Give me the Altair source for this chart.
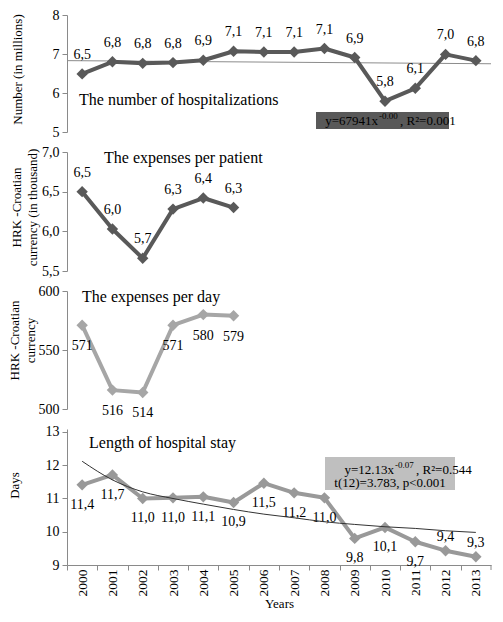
import altair as alt
import pandas as pd

# ---------------- data ----------------
years = list(range(2000, 2014))

hosp_values = [6.49, 6.80, 6.76, 6.78, 6.84, 7.07, 7.05, 7.05, 7.14, 6.91, 5.79, 6.12, 6.99, 6.83]
hosp_labels = ["6,5", "6,8", "6,8", "6,8", "6,9", "7,1", "7,1", "7,1", "7,1", "6,9", "5,8", "6,1", "7,0", "6,8"]
hosp_trend_years = [1999.5, 2013.5]
hosp_trend_values = [6.83, 6.75]

patient_years = [2000, 2001, 2002, 2003, 2004, 2005]
patient_values = [6.50, 6.03, 5.66, 6.28, 6.42, 6.30]
patient_labels = ["6,5", "6,0", "5,7", "6,3", "6,4", "6,3"]

day_years = [2000, 2001, 2002, 2003, 2004, 2005]
day_values = [571, 516, 514, 571, 580, 579]
day_labels = ["571", "516", "514", "571", "580", "579"]

stay_values = [11.41, 11.71, 11.00, 11.02, 11.05, 10.88, 11.46, 11.17, 11.02, 9.80, 10.13, 9.70, 9.43, 9.25]
stay_labels = ["11,4", "11,7", "11,0", "11,0", "11,1", "10,9", "11,5", "11,2", "11,0", "9,8", "10,1", "9,7", "9,4", "9,3"]
stay_trend_values = [12.12, 11.56, 11.20, 11.00, 10.83, 10.67, 10.53, 10.42, 10.30, 10.22, 10.15, 10.10, 10.03, 9.98]

# ---------------- helpers ----------------
FONT = "Liberation Serif"
W = 424
H4 = 136
X_DOMAIN = [years[0] - 0.5, years[-1] + 0.5]
AXIS_GRAY = "#8a8a8a"
one = pd.DataFrame({"k": [0]})


def df(xs, ys, labels=None):
    d = {"year": xs, "value": ys}
    if labels is not None:
        d["label"] = labels
    return pd.DataFrame(d)


def x_hidden():
    return alt.X("year:Q", scale=alt.Scale(domain=X_DOMAIN, nice=False, zero=False), axis=None)


def x_shown():
    tick_vals = [y - 0.5 for y in years]
    return alt.X(
        "year:Q",
        scale=alt.Scale(domain=X_DOMAIN, nice=False, zero=False),
        axis=alt.Axis(
            values=tick_vals,
            labelExpr="format(datum.value + 0.5, 'd')",
            labelOffset=W / len(years) / 2,
            labelAngle=-90,
            labelFontSize=13.5,
            title="Years",
            grid=False,
            tickSize=5,
            labelPadding=-1,
            titlePadding=1,
        ),
    )


def y_enc(domain, values, title, titleX, titleY, label_expr=None):
    kw = dict(
        values=values,
        title=title,
        titleX=titleX,
        titleY=titleY,
        titleAngle=270,
        titleAlign="center",
        titleBaseline="middle",
        titleLineHeight=16,
        grid=False,
        tickSize=5,
        labelPadding=3,
    )
    if label_expr:
        kw["labelExpr"] = label_expr
    return alt.Y("value:Q", scale=alt.Scale(domain=domain, nice=False, zero=False), axis=alt.Axis(**kw))


def note(text, x, y, size=14, align="left", color="black", baseline="middle"):
    return alt.Chart(one).mark_text(
        font=FONT, fontSize=size, align=align, baseline=baseline, color=color
    ).encode(x=alt.value(x), y=alt.value(y), text=alt.value(text))


def series_layers(data, y, xenc, color, label_dy, width=4, flip_below=None, flip_dy=-14):
    base = alt.Chart(data)
    line = base.mark_line(color=color, strokeWidth=width, strokeJoin="round").encode(x=xenc, y=y)
    pts = base.mark_point(shape="diamond", filled=True, size=130, color=color, opacity=1).encode(x=xenc, y=y)
    layers = [line, pts]
    if flip_below is None:
        layers.append(
            base.mark_text(font=FONT, fontSize=14, color="black", dy=label_dy).encode(x=xenc, y=y, text="label:N")
        )
    else:
        layers.append(
            base.transform_filter(alt.datum.value >= flip_below)
            .mark_text(font=FONT, fontSize=14, color="black", dy=label_dy)
            .encode(x=xenc, y=y, text="label:N")
        )
        layers.append(
            base.transform_filter(alt.datum.value < flip_below)
            .mark_text(font=FONT, fontSize=14, color="black", dy=flip_dy)
            .encode(x=xenc, y=y, text="label:N")
        )
    return layers


# ---------------- panel 1 ----------------
y1 = y_enc([5, 8], [5, 6, 7, 8], "Number (in millions)", -50, 54)
trend1 = alt.Chart(df(hosp_trend_years, hosp_trend_values)).mark_line(color="#8c8c8c", strokeWidth=1).encode(x=x_hidden(), y=y1)
box1 = alt.Chart(one).mark_rect(color="#595959").encode(
    x=alt.value(249), x2=alt.value(382), y=alt.value(97), y2=alt.value(114)
)
p1 = alt.layer(
    trend1,
    *series_layers(df(years, hosp_values, hosp_labels), y1, x_hidden(), "#595959", -19),
    note("The number of hospitalizations", 12, 85, size=16),
    box1,
    note("y=67941x", 311, 106, size=13, align="right"),
    note("-0.00", 312, 101, size=9),
    note(", R²=0.001", 333, 106, size=13),
).properties(width=W, height=117)

# ---------------- panel 2 ----------------
y2 = y_enc(
    [5.5, 7.0], [5.5, 6.0, 6.5, 7.0], ["HRK -Croatian", "currency (in thousand)"], -51, 55,
    label_expr="replace(format(datum.value, '.1f'), '.', ',')",
)
p2 = alt.layer(
    *series_layers(df(patient_years, patient_values, patient_labels), y2, x_hidden(), "#595959", -19),
    note("The expenses per patient", 37, 6, size=16),
).properties(width=W, height=119)

# ---------------- panel 3 ----------------
y3 = y_enc([500, 600], [500, 550, 600], ["HRK -Croatian", "currency"], -53, 49)
p3 = alt.layer(
    *series_layers(df(day_years, day_values, day_labels), y3, x_hidden(), "#a6a6a6", 21),
    note("The expenses per day", 15, 6, size=16),
).properties(width=W, height=118)

# ---------------- panel 4 ----------------
y4 = y_enc([9, 13.09], [9, 10, 11, 12, 13], "Days", -53, 56)
trend4 = alt.Chart(df(years, stay_trend_values)).mark_line(
    color="#333333", strokeWidth=1, interpolate="monotone"
).encode(x=x_shown(), y=y4)
box4 = alt.Chart(one).mark_rect(color="#bfbfbf").encode(
    x=alt.value(258), x2=alt.value(388), y=alt.value(28), y2=alt.value(61)
)
end_tick = alt.Chart(one).mark_rule(color=AXIS_GRAY).encode(
    x=alt.value(W), y=alt.value(H4), y2=alt.value(H4 + 5)
)
p4 = alt.layer(
    *series_layers(df(years, stay_values, stay_labels), y4, x_shown(), "#999999", 20, flip_below=9.5),
    trend4,
    end_tick,
    note("Length of hospital stay", 22, 14, size=16),
    box4,
    note("y=12.13x", 327, 41, size=13, align="right"),
    note("-0.07", 328, 36, size=9),
    note(", R²=0.544", 349, 41, size=13),
    note("t(12)=3.783, p<0.001", 323, 54, size=13, align="center"),
).properties(width=W, height=H4)

chart = (
    alt.vconcat(p1, p2, p3, p4, spacing=20, bounds="flush")
    .properties(padding={"top": 0, "left": 0, "right": 0, "bottom": 0})
    .configure_view(stroke=None)
    .configure_axis(
        labelFont=FONT,
        labelFontSize=14,
        labelColor="black",
        titleFont=FONT,
        titleFontSize=13,
        titleFontWeight="normal",
        titleColor="black",
        domainColor=AXIS_GRAY,
        tickColor=AXIS_GRAY,
    )
)

chart.save("out.html", embed_options={"renderer": "svg", "actions": False})
